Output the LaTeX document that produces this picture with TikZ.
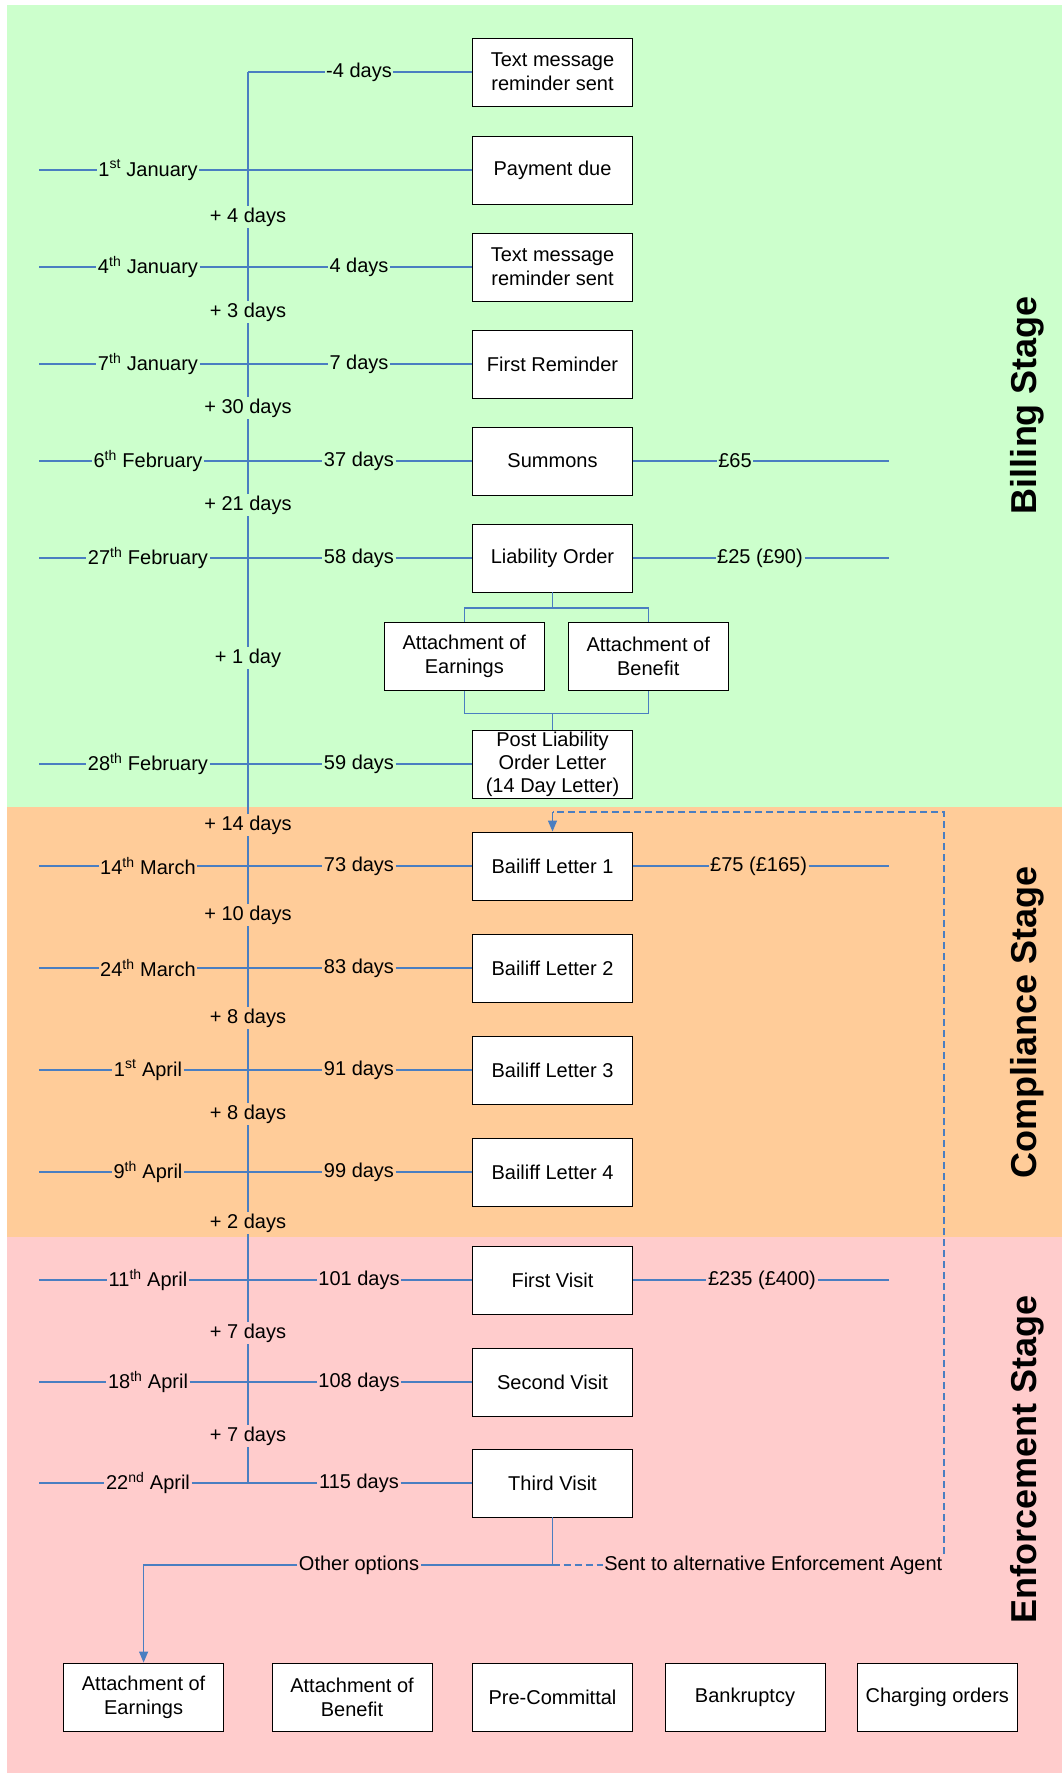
\documentclass[tikz,border=0pt]{standalone}
\usepackage{fontspec}
\setmainfont{Liberation Sans}
\usetikzlibrary{arrows.meta,calc}
\definecolor{lineblue}{RGB}{74,126,193}
\definecolor{bggreen}{RGB}{204,255,204}
\definecolor{bgorange}{RGB}{255,204,153}
\definecolor{bgpink}{RGB}{255,204,204}
\newcommand\sups[1]{\textsuperscript{#1}}
\begin{document}
\begin{tikzpicture}[x=1pt,y=-1pt,
  every node/.style={font=\fontsize{20}{24}\selectfont},
  bx/.style={draw=black,fill=white,line width=0.9pt,minimum width=160pt,minimum height=68pt,align=center,inner sep=1pt},
  lbl/.style={inner sep=1.5pt},
  ln/.style={draw=lineblue,line width=1.2pt},
  dln/.style={ln,dash pattern=on 7pt off 4pt},
  arr/.style={-{Triangle[width=9pt,length=11pt]}},
  stage/.style={rotate=90,anchor=base,font=\fontsize{36}{40}\selectfont\bfseries}]
\useasboundingbox (0,0) rectangle (1062,1773);
% backgrounds
\fill[bggreen] (7,5) rectangle (1062,807);
\fill[bgorange] (7,807) rectangle (1062,1237);
\fill[bgpink] (7,1237) rectangle (1062,1773);

% boxes
\node[bx] (tm1) at (552.5,72) {Text message\\reminder sent};
\node[bx] (pd) at (552.5,170) {Payment due};
\node[bx] (tm2) at (552.5,267) {Text message\\reminder sent};
\node[bx] (fr) at (552.5,364) {First Reminder};
\node[bx] (sum) at (552.5,461) {Summons};
\node[bx] (lo) at (552.5,558) {Liability Order};
\node[bx] (aoe) at (464.3,656.5) {Attachment of\\Earnings};
\node[bx] (aob) at (648.2,656.5) {Attachment of\\Benefit};
\node[bx,font=\fontsize{20}{23}\selectfont,inner sep=0pt] (plol) at (552.5,764) {Post Liability\\Order Letter\\(14 Day Letter)};
\node[bx] (bl1) at (552.5,866) {Bailiff Letter 1};
\node[bx] (bl2) at (552.5,968) {Bailiff Letter 2};
\node[bx] (bl3) at (552.5,1070) {Bailiff Letter 3};
\node[bx] (bl4) at (552.5,1172) {Bailiff Letter 4};
\node[bx] (fv) at (552.5,1280) {First Visit};
\node[bx] (sv) at (552.5,1382) {Second Visit};
\node[bx] (tv) at (552.5,1483) {Third Visit};
\node[bx] (b1) at (143.6,1697) {Attachment of\\Earnings};
\node[bx] (b2) at (352,1697) {Attachment of\\Benefit};
\node[bx] (b3) at (552.5,1697) {Pre-Committal};
\node[bx] (b4) at (745,1697) {Bankruptcy};
\node[bx] (b5) at (937.3,1697) {Charging orders};

% date labels
\node[lbl] (d2) at (148,170) {1\sups{st} January};
\node[lbl] (d3) at (148,267) {4\sups{th} January};
\node[lbl] (d4) at (148,364) {7\sups{th} January};
\node[lbl] (d5) at (148,461) {6\sups{th} February};
\node[lbl] (d6) at (148,558) {27\sups{th} February};
\node[lbl] (d7) at (148,764) {28\sups{th} February};
\node[lbl] (d8) at (148,866) {14\sups{th} March};
\node[lbl] (d9) at (148,968) {24\sups{th} March};
\node[lbl] (d10) at (148,1070) {1\sups{st} April};
\node[lbl] (d11) at (148,1172) {9\sups{th} April};
\node[lbl] (d12) at (148,1280) {11\sups{th} April};
\node[lbl] (d13) at (148,1382) {18\sups{th} April};
\node[lbl] (d14) at (148,1483) {22\sups{nd} April};

% day count labels
\node[lbl] (k1) at (359,72) {-4 days};
\node[lbl] (k3) at (359,267) {4 days};
\node[lbl] (k4) at (359,364) {7 days};
\node[lbl] (k5) at (359,461) {37 days};
\node[lbl] (k6) at (359,558) {58 days};
\node[lbl] (k7) at (359,764) {59 days};
\node[lbl] (k8) at (359,866) {73 days};
\node[lbl] (k9) at (359,968) {83 days};
\node[lbl] (k10) at (359,1070) {91 days};
\node[lbl] (k11) at (359,1172) {99 days};
\node[lbl] (k12) at (359,1280) {101 days};
\node[lbl] (k13) at (359,1382) {108 days};
\node[lbl] (k14) at (359,1483) {115 days};

% interval labels
\node[lbl] (p1) at (248,217) {+ 4 days};
\node[lbl] (p2) at (248,312) {+ 3 days};
\node[lbl] (p3) at (248,408) {+ 30 days};
\node[lbl] (p4) at (248,505) {+ 21 days};
\node[lbl] (p5) at (248,658) {+ 1 day};
\node[lbl] (p6) at (248,825) {+ 14 days};
\node[lbl] (p7) at (248,915) {+ 10 days};
\node[lbl] (p8) at (248,1018) {+ 8 days};
\node[lbl] (p9) at (248,1114) {+ 8 days};
\node[lbl] (p10) at (248,1223) {+ 2 days};
\node[lbl] (p11) at (248,1333) {+ 7 days};
\node[lbl] (p12) at (248,1436) {+ 7 days};

% fee labels
\node[lbl] (f5) at (735,461) {£65};
\node[lbl] (f6) at (760,558) {£25 (£90)};
\node[lbl] (f8) at (758.6,866) {£75 (£165)};
\node[lbl] (f12) at (762,1280) {£235 (£400)};

% stage labels
\node[stage] (st1) at (1036,405) {Billing Stage};
\node[stage] (st2) at (1036,1022) {Compliance Stage};
\node[stage] (st3) at (1036,1459) {Enforcement Stage};

% coordinates
\coordinate (m1) at (248,72);
\coordinate (m14) at (248,1483);
\foreach \n/\y in {2/170,3/267,4/364,5/461,6/558,7/764,8/866,9/968,10/1070,11/1172,12/1280,13/1382,14/1483}
  \coordinate (s\n) at (39,\y);
\foreach \n/\y in {5/461,6/558,8/866,12/1280}
  \coordinate (e\n) at (888.7,\y);

% main vertical line
\draw[ln] (m1) -- (p1.north);
\foreach \a/\b in {1/2,2/3,3/4,4/5,5/6,6/7,7/8,8/9,9/10,10/11,11/12}
  \draw[ln] (p\a.south) -- (p\b.north);
\draw[ln] (p12.south) -- (m14);

% rows
\draw[ln] (m1) -- (k1.west);
\draw[ln] (k1.east) -- (tm1.west);
\draw[ln] (s2) -- (d2.west);
\draw[ln] (d2.east) -- (pd.west);
\foreach \n/\bx in {3/tm2,4/fr,5/sum,6/lo,7/plol,8/bl1,9/bl2,10/bl3,11/bl4,12/fv,13/sv,14/tv}{
  \draw[ln] (s\n) -- (d\n.west);
  \draw[ln] (d\n.east) -- (k\n.west);
  \draw[ln] (k\n.east) -- (\bx.west);
}
% fees
\foreach \n/\bx in {5/sum,6/lo,8/bl1,12/fv}{
  \draw[ln] (\bx.east) -- (f\n.west);
  \draw[ln] (f\n.east) -- (e\n);
}

% liability order tree
\coordinate (t1) at ($(lo.south)+(0,15.5)$);
\coordinate (t2) at ($(plol.north)+(0,-16)$);
\draw[ln] (lo.south) -- (t1);
\draw[ln] (aoe.north) |- (t1) -| (aob.north);
\draw[ln] (aoe.south) |- (t2) -| (aob.south);
\draw[ln] (t2) -- (plol.north);

% enforcement options
\node[lbl] (oo) at (359,1565) {Other options};
\node[lbl,anchor=east] (sa) at (944,1565) {Sent to alternative Enforcement Agent};
\coordinate (tvj) at (552.5,1565);
\coordinate (dc) at (552.5,812);
\draw[ln] (tv.south) -- (tvj);
\draw[ln] (tvj) -- (oo.east);
\draw[ln,arr] (oo.west) -| (b1.north);
\draw[dln] (tvj) -- (sa.west);
\draw[dln] (sa.north east) |- (dc);
\draw[ln,arr] (dc) -- (bl1.north);
\end{tikzpicture}
\end{document}
